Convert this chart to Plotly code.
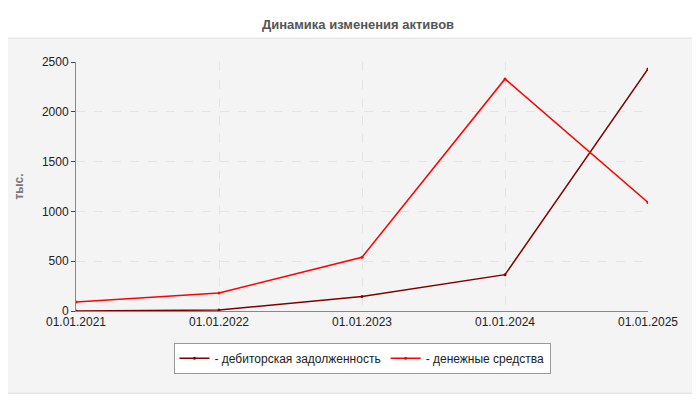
import plotly.graph_objects as go

dates = ["01.01.2021", "01.01.2022", "01.01.2023", "01.01.2024", "01.01.2025"]
receivables = [0, 10, 145, 365, 2430]
cash = [90, 180, 540, 2330, 1090]
yticks = [0, 500, 1000, 1500, 2000, 2500]

fig = go.Figure()
fig.add_trace(go.Scatter(x=dates, y=receivables, mode="lines+markers", name="- дебиторская задолженность",
                         line=dict(color="#800000", width=1.5), marker=dict(size=3, color="#800000")))
fig.add_trace(go.Scatter(x=dates, y=cash, mode="lines+markers", name="- денежные средства",
                         line=dict(color="#ff0000", width=1.5), marker=dict(size=3, color="#ff0000")))

fig.update_layout(
    width=700, height=400, autosize=False,
    margin=dict(l=68, r=60, t=54, b=97),
    paper_bgcolor="white", plot_bgcolor="#fffff5",
    font=dict(family="Liberation Sans, Arial", size=12, color="#222"),
    title=dict(text="<b>Динамика изменения активов</b>", x=0.5, y=0.97, xanchor="center",
               font=dict(size=13, color="#555")),
    showlegend=True,
    legend=dict(orientation="h", x=0.5, xanchor="center", y=-0.128, yanchor="top",
                bordercolor="#999", borderwidth=1, bgcolor="white", font=dict(size=12)),
    shapes=[dict(type="rect", xref="paper", yref="paper", x0=-0.13, x1=1.086, y0=-0.33, y1=1.096,
                 fillcolor="#f4f4f4", line=dict(color="#ddd", width=1), layer="below")],
)
fig.update_xaxes(type="category", range=[0, 4], showgrid=True, gridcolor="#e4e4e4", griddash="dash",
                 showline=True, linecolor="#888", ticks="", tickfont=dict(size=12), automargin=False)
fig.update_yaxes(range=[0, 2500], tickvals=yticks, showgrid=True, gridcolor="#e4e4e4", griddash="dash",
                 showline=True, linecolor="#888", zeroline=False, ticks="outside", ticklen=4,
                 automargin=False, title=dict(text="<b>тыс.</b>", font=dict(size=12, color="#777")))
fig.write_html("out.html")
